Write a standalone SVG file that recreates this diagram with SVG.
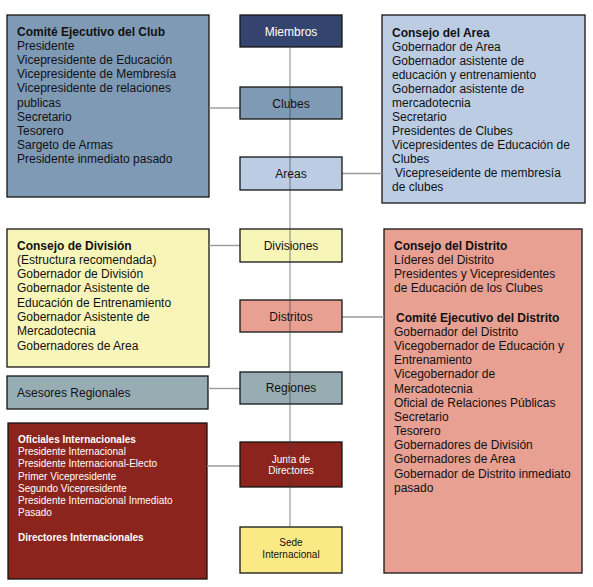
<svg xmlns="http://www.w3.org/2000/svg" width="593" height="587" viewBox="0 0 593 587">
<style>
text{font-family:"Liberation Sans",Arial,sans-serif;font-size:12px;fill:#111}
.b{font-weight:bold}
.w{fill:#fff}
.s{font-size:10px}
.c{text-anchor:middle}
.box{stroke:#141414;stroke-width:1.3}
.h{stroke:#9a9a9a;stroke-width:1.4;fill:none}
.v{stroke:#3a3a3a;stroke-opacity:0.38;stroke-width:1.6;fill:none}
</style>
<rect x="0" y="0" width="593" height="587" fill="#fff"/>
<g id="n-club-exec">
<rect class="box" x="7" y="15" width="202" height="182" fill="#7f9ab5"/>
<text x="17" y="36"><tspan class="b">Comité Ejecutivo del Club</tspan><tspan x="17" dy="14.1">Presidente</tspan><tspan x="17" dy="14.1">Vicepresidente de Educación</tspan><tspan x="17" dy="14.1">Vicepresidente de Membresía</tspan><tspan x="17" dy="14.1">Vicepresidente de relaciones</tspan><tspan x="17" dy="14.1">publicas</tspan><tspan x="17" dy="14.1">Secretario</tspan><tspan x="17" dy="14.1">Tesorero</tspan><tspan x="17" dy="14.1">Sargeto de Armas</tspan><tspan x="17" dy="14.1">Presidente inmediato pasado</tspan></text>
</g>
<g id="n-area-council">
<rect class="box" x="382" y="15" width="203" height="188" fill="#bccde3"/>
<text x="392" y="37"><tspan class="b">Consejo del Area</tspan><tspan x="392" dy="14">Gobernador de Area</tspan><tspan x="392" dy="14">Gobernador asistente de</tspan><tspan x="392" dy="14">educación y entrenamiento</tspan><tspan x="392" dy="14">Gobernador asistente de</tspan><tspan x="392" dy="14">mercadotecnia</tspan><tspan x="392" dy="14">Secretario</tspan><tspan x="392" dy="14">Presidentes de Clubes</tspan><tspan x="392" dy="14">Vicepresidentes de Educación de</tspan><tspan x="392" dy="14">Clubes</tspan><tspan x="395" dy="14">Vicepreseidente de membresía</tspan><tspan x="392" dy="14">de clubes</tspan></text>
</g>
<g id="n-division-council">
<rect class="box" x="7" y="229" width="202" height="138" fill="#f8f5b9"/>
<text x="17" y="249.5"><tspan class="b">Consejo de División</tspan><tspan x="17" dy="14.3">(Estructura recomendada)</tspan><tspan x="17" dy="14.3">Gobernador de División</tspan><tspan x="17" dy="14.3">Gobernador Asistente de</tspan><tspan x="17" dy="14.3">Educación de Entrenamiento</tspan><tspan x="17" dy="14.3">Gobernador Asistente de</tspan><tspan x="17" dy="14.3">Mercadotecnia</tspan><tspan x="17" dy="14.3">Gobernadores de Area</tspan></text>
</g>
<g id="n-regional-advisors">
<rect class="box" x="7" y="376" width="201" height="33" fill="#97acb3"/>
<text x="17" y="397">Asesores Regionales</text>
</g>
<g id="n-district-council">
<rect class="box" x="384" y="229" width="198" height="344" fill="#e8a093"/>
<text x="394" y="249.5"><tspan class="b">Consejo del Distrito</tspan><tspan x="394" dy="14.2">Líderes del Distrito</tspan><tspan x="394" dy="14.2">Presidentes y Vicepresidentes</tspan><tspan x="394" dy="14.2">de Educación de los Clubes</tspan><tspan x="396" dy="29.4" class="b">Comité Ejecutivo del Distrito</tspan><tspan x="394" dy="14.2">Gobernador del Distrito</tspan><tspan x="394" dy="14.2">Vicegobernador de Educación y</tspan><tspan x="394" dy="14.2">Entrenamiento</tspan><tspan x="394" dy="14.2">Vicegobernador de</tspan><tspan x="394" dy="14.2">Mercadotecnia</tspan><tspan x="394" dy="14.2">Oficial de Relaciones Públicas</tspan><tspan x="394" dy="14.2">Secretario</tspan><tspan x="394" dy="14.2">Tesorero</tspan><tspan x="394" dy="14.2">Gobernadores de División</tspan><tspan x="394" dy="14.2">Gobernadores de Area</tspan><tspan x="394" dy="14.2">Gobernador de Distrito inmediato</tspan><tspan x="394" dy="14.2">pasado</tspan></text>
</g>
<g id="n-intl-officers">
<rect class="box" x="8" y="423" width="199" height="156" fill="#8b241c"/>
<text x="18" y="443" class="s w"><tspan class="b">Oficiales Internacionales</tspan><tspan x="18" dy="12.2">Presidente Internacional</tspan><tspan x="18" dy="12.2">Presidente Internacional-Electo</tspan><tspan x="18" dy="12.2">Primer Vicepresidente</tspan><tspan x="18" dy="12.2">Segundo Vicepresidente</tspan><tspan x="18" dy="12.2">Presidente Internacional Inmediato</tspan><tspan x="18" dy="12.2">Pasado</tspan><tspan x="18" dy="24.6" class="b">Directores Internacionales</tspan></text>
</g>
<g id="connectors">
<line class="h" x1="209" y1="108" x2="240" y2="108"/>
<line class="h" x1="342" y1="173.5" x2="382" y2="173.5"/>
<line class="h" x1="209" y1="245.5" x2="240" y2="245.5"/>
<line class="h" x1="342" y1="317" x2="384" y2="317"/>
<line class="h" x1="208" y1="388.5" x2="240" y2="388.5"/>
<line class="h" x1="207" y1="466" x2="240" y2="466"/>
</g>
<g id="n-miembros">
<rect class="box" x="240" y="15" width="102" height="32" fill="#34446e"/>
<text x="291" y="36" class="c w">Miembros</text>
</g>
<g id="n-clubes">
<rect class="box" x="240" y="87" width="102" height="32" fill="#7f9ab5"/>
<text x="291" y="107.5" class="c">Clubes</text>
</g>
<g id="n-areas">
<rect class="box" x="240" y="157" width="102" height="33" fill="#bccde3"/>
<text x="291" y="178" class="c">Areas</text>
</g>
<g id="n-divisiones">
<rect class="box" x="240" y="229" width="102" height="33" fill="#f8f5b9"/>
<text x="291" y="249.5" class="c">Divisiones</text>
</g>
<g id="n-distritos">
<rect class="box" x="240" y="300" width="102" height="32" fill="#e8a093"/>
<text x="291" y="321" class="c">Distritos</text>
</g>
<g id="n-regiones">
<rect class="box" x="240" y="372" width="102" height="32" fill="#97acb3"/>
<text x="291" y="392" class="c">Regiones</text>
</g>
<g id="n-junta">
<rect class="box" x="240" y="442" width="102" height="45" fill="#8b241c"/>
<text x="291" y="462.5" class="c w s">Junta de<tspan x="291" dy="11.8">Directores</tspan></text>
</g>
<g id="n-sede">
<rect class="box" x="240" y="527" width="102" height="46" fill="#fbe985"/>
<text x="291" y="546" class="c s">Sede<tspan x="291" dy="11.8">Internacional</tspan></text>
</g>
<g id="connector-spine">
<line class="v" x1="290" y1="47" x2="290" y2="527"/>
</g>
</svg>
